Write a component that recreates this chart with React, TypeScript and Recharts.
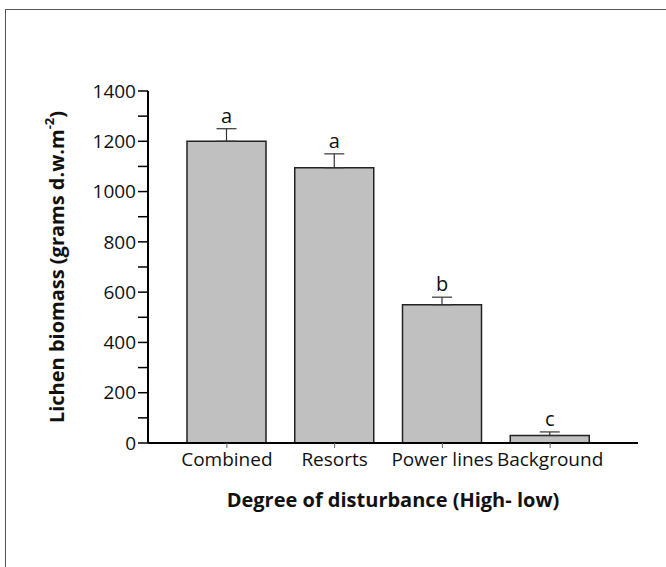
import { BarChart, Bar, XAxis, YAxis, ErrorBar, LabelList, Label } from 'recharts';

const categories = ['Combined', 'Resorts', 'Power lines', 'Background'];
const biomass = [1200, 1095, 550, 30];
const errUp = [50, 55, 30, 14];
const letters = ['a', 'a', 'b', 'c'];
const yTicks = [0, 100, 200, 300, 400, 500, 600, 700, 800, 900, 1000, 1100, 1200, 1300, 1400];

const data = categories.map((name, i) => ({
  name,
  biomass: biomass[i],
  err: [0, errUp[i]],
  letter: letters[i],
}));

const FONT = '"Open Sans", sans-serif';

const LetterLabel = (props: any) => {
  const { x, y, width, height, value, index } = props;
  const pxPerUnit = height / biomass[index];
  const top = y - errUp[index] * pxPerUnit;
  return (
    <text x={x + width / 2} y={top - 6} textAnchor="middle" fontSize={20} fontFamily={FONT} fill="#111">
      {value}
    </text>
  );
};

const CatTick = (props: any) => {
  const { x, y, payload } = props;
  return (
    <text x={x} y={y + 16} textAnchor="middle" fontSize={19} fontFamily={FONT} fill="#111">
      {payload.value}
    </text>
  );
};

const YTitle = (props: any) => {
  const { viewBox } = props;
  const cy = viewBox.y + viewBox.height / 2;
  const cx = 56;
  return (
    <text
      x={cx}
      y={cy}
      transform={`rotate(-90, ${cx}, ${cy})`}
      textAnchor="middle"
      dominantBaseline="central"
      fontSize={20}
      fontWeight="bold"
      fontFamily={FONT}
      fill="#111"
    >
      Lichen biomass (grams d.w.m
      <tspan dy={-7} fontSize={13}>-2</tspan>
      <tspan dy={7}>)</tspan>
    </text>
  );
};

export default function App() {
  return (
    <div style={{ position: 'absolute', left: 0, top: 0, width: 666, height: 567, overflow: 'hidden', background: '#fff' }}>
      <div
        style={{
          position: 'absolute',
          left: 5,
          top: 9,
          width: 720,
          height: 620,
          border: '1.5px solid #555',
        }}
      />
      <div style={{ position: 'absolute', left: 0, top: 0 }}>
        <BarChart width={666} height={567} data={data} margin={{ top: 91, right: 28, bottom: 54, left: 0 }}>
          <XAxis
            dataKey="name"
            height={70}
            padding={{ left: 25, right: 34 }}
            axisLine={{ stroke: '#000', strokeWidth: 2 }}
            tickLine={{ stroke: '#666' }}
            tickSize={5}
            tick={<CatTick />}
            interval={0}
          >
            <Label
              value="Degree of disturbance (High- low)"
              position="insideBottom"
              offset={6}
              style={{ fontSize: 20, fontWeight: 'bold', fontFamily: FONT, fill: '#111' }}
            />
          </XAxis>
          <YAxis
            width={148}
            domain={[0, 1400]}
            ticks={yTicks}
            interval={0}
            axisLine={{ stroke: '#000', strokeWidth: 2 }}
            tickLine={{ stroke: '#000', strokeWidth: 1.5 }}
            tickSize={10}
            tickFormatter={(v: number) => (v % 200 === 0 ? String(v) : '')}
            tick={{ fill: '#111', fontSize: 19, fontFamily: FONT }}
          >
            <Label content={<YTitle />} />
          </YAxis>
          <Bar dataKey="biomass" fill="#c0c0c0" stroke="#222" strokeWidth={1.5} barSize={79} isAnimationActive={false}>
            <ErrorBar dataKey="err" direction="y" width={10} stroke="#333" strokeWidth={1.2} isAnimationActive={false} />
            <LabelList dataKey="letter" content={<LetterLabel />} />
          </Bar>
        </BarChart>
      </div>
    </div>
  );
}
